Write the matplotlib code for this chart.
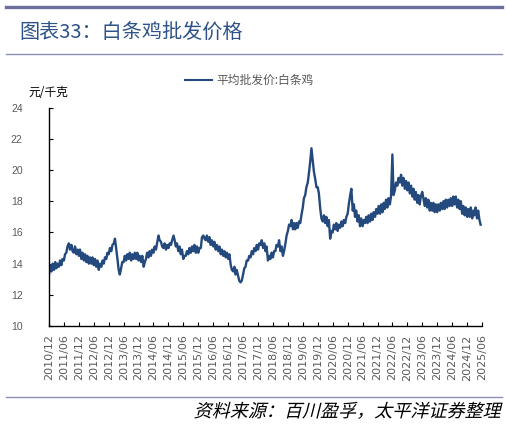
import matplotlib
matplotlib.use("Agg")
import matplotlib.pyplot as plt
import matplotlib.dates as mdates
from matplotlib.lines import Line2D
from matplotlib.textpath import TextPath
from matplotlib.patches import PathPatch
from matplotlib.font_manager import FontProperties
from matplotlib.transforms import Affine2D
import pandas as pd

plt.rcParams['font.family'] = ['Noto Sans CJK SC', 'DejaVu Sans']

# semi-monthly readings (1st / 15th) of 白条鸡 average wholesale price, yuan/kg
start = '2010-12-01'
prices = [
    13.3, 13.9,
    # 2011
    13.5, 14.0, 13.6, 14.1, 13.7, 14.0, 13.8, 14.2, 13.9, 14.3, 14.2, 14.6,
    14.7, 15.1, 15.3, 14.9, 15.2, 14.8, 14.7, 15.1, 14.6, 14.9, 14.5, 14.9,
    # 2012
    14.3, 14.7, 14.2, 14.6, 14.1, 14.5, 14.0, 14.4, 14.0, 14.4, 13.9, 14.3,
    13.8, 14.2, 13.6, 14.0, 13.8, 14.2, 14.0, 14.4, 14.3, 14.7, 14.6, 15.0,
    # 2013
    14.8, 15.2, 15.3, 15.6, 15.0, 14.4, 13.6, 13.3, 13.7, 14.1, 14.1, 14.5,
    14.2, 14.6, 14.3, 14.7, 14.2, 14.6, 14.3, 14.7, 14.3, 14.7, 14.2, 14.5,
    # 2014
    14.1, 14.5, 13.8, 14.1, 14.3, 14.7, 14.4, 14.8, 14.5, 14.9, 14.7, 15.1,
    14.9, 15.3, 15.8, 15.5, 15.4, 15.1, 15.0, 15.3, 14.9, 15.2, 15.0, 15.3,
    # 2015
    15.2, 15.5, 15.8, 15.5, 15.1, 15.3, 14.8, 15.1, 14.6, 14.9, 14.3, 14.5,
    14.5, 14.8, 14.6, 15.0, 14.7, 15.1, 14.8, 15.2, 14.7, 15.1, 14.7, 15.0,
    # 2016
    15.0, 15.7, 15.8, 15.6, 15.5, 15.8, 15.4, 15.7, 15.2, 15.5, 15.1, 15.4,
    14.9, 15.2, 14.8, 15.1, 14.6, 14.9, 14.5, 14.8, 14.4, 14.7, 14.3, 14.6,
    # 2017
    13.9, 13.6, 13.5, 13.8, 13.3, 13.6, 13.2, 12.9, 12.8, 12.9, 13.3, 13.7,
    13.8, 14.2, 14.2, 14.5, 14.4, 14.8, 14.6, 15.0, 14.8, 15.2, 14.9, 15.3,
    # 2018
    15.2, 15.5, 15.0, 15.3, 14.8, 15.1, 14.2, 14.5, 14.3, 14.7, 14.4, 14.8,
    14.8, 15.2, 15.1, 15.5, 14.8, 15.1, 14.5, 14.8, 15.3, 15.8, 16.1, 16.5,
    # 2019
    16.4, 16.8, 16.2, 16.6, 16.2, 16.6, 16.3, 16.7, 16.6, 17.1, 17.6, 18.2,
    18.4, 18.9, 19.2, 19.8, 20.6, 21.4, 20.6, 19.9, 19.4, 18.9, 18.9, 18.5,
    # 2020
    17.5, 16.9, 16.7, 17.1, 16.6, 17.0, 16.4, 16.8, 15.6, 16.1, 16.0, 16.5,
    16.2, 16.6, 16.1, 16.5, 16.3, 16.7, 16.4, 16.8, 16.6, 17.0, 17.2, 17.8,
    # 2021
    18.4, 18.8, 17.4, 17.8, 17.0, 17.4, 16.7, 17.1, 16.4, 16.9, 16.4, 16.8,
    16.6, 17.0, 16.6, 17.1, 16.7, 17.2, 16.8, 17.3, 17.0, 17.5, 17.2, 17.7,
    # 2022
    17.2, 17.8, 17.3, 17.9, 17.5, 18.1, 17.6, 18.2, 17.8, 18.3, 21.0, 18.4,
    18.7, 19.2, 19.0, 19.5, 19.2, 19.7, 19.0, 19.5, 18.8, 19.3, 18.7, 19.2,
    # 2023
    18.5, 19.0, 18.3, 18.8, 18.1, 18.6, 17.9, 18.4, 17.8, 18.3, 18.6, 18.2,
    17.7, 18.2, 17.6, 18.1, 17.4, 17.9, 17.4, 17.9, 17.3, 17.8, 17.3, 17.8,
    # 2024
    17.4, 17.9, 17.5, 18.0, 17.5, 18.1, 17.6, 18.1, 17.7, 18.2, 17.7, 18.3,
    17.8, 18.3, 17.6, 18.1, 17.5, 18.0, 17.2, 17.7, 17.1, 17.6, 17.0, 17.5,
    # 2025
    17.0, 17.6, 16.9, 17.4, 17.1, 17.6, 16.9, 17.4, 16.8, 16.5,
]
dates = pd.date_range(start, periods=len(prices), freq='SMS')

tick_dates = pd.date_range('2010-12-01', '2025-06-01', freq='6MS')
y_ticks = [10, 12, 14, 16, 18, 20, 22, 24]

W, H = 507, 424
fig = plt.figure(figsize=(W / 100, H / 100), dpi=100)
ax = fig.add_axes([49 / W, 1 - 326 / H, (482 - 49) / W, (326 - 107.7) / H])

ax.plot(dates, prices, color='#24497d', lw=1.7)

ax.set_xlim(tick_dates[0], tick_dates[-1])
ax.set_ylim(10, 24)
ax.set_yticks(y_ticks)
ax.set_xticks(tick_dates)
ax.xaxis.set_major_formatter(mdates.DateFormatter('%Y/%m'))

for s in ['top', 'right']:
    ax.spines[s].set_visible(False)
for s in ['left', 'bottom']:
    ax.spines[s].set_linewidth(1.0)
    ax.spines[s].set_color('black')

ax.tick_params(axis='y', direction='in', length=3, pad=19, labelsize=7.5,
               labelcolor='#595959')
ax.tick_params(axis='x', direction='in', length=3, pad=6, labelsize=8,
               labelcolor='#595959', rotation=90)
for lab in ax.get_yticklabels():
    lab.set_family(['Liberation Sans', 'DejaVu Sans'])
for lab in ax.get_xticklabels():
    lab.set_family(['DejaVu Sans'])

# header / footer decoration
fig.add_artist(Line2D([6 / W, 502 / W], [1 - 6.5 / H] * 2, color='#6c6f9e', lw=2.4))
fig.add_artist(Line2D([6 / W, 502 / W], [1 - 54 / H] * 2, color='#8a8fb8', lw=1.0))
fig.add_artist(Line2D([6 / W, 502 / W], [1 - 397 / H] * 2, color='#8a8fb8', lw=1.0))

fig.text(19 / W, 1 - 32 / H, '图表33：白条鸡批发价格', fontsize=14.5, color='#2f5388',
         va='center', ha='left')
fig.text(28 / W, 1 - 93 / H, '元/千克', fontsize=8.5, color='black', va='center')

# legend
fig.add_artist(Line2D([185 / W, 212 / W], [1 - 80 / H] * 2, color='#24497d', lw=1.5))
fig.text(216 / W, 1 - 80 / H, '平均批发价:白条鸡', fontsize=8.5, color='#595959',
         va='center', ha='left')

# source note, slanted like the original italic
src = '资料来源：百川盈孚，太平洋证券整理'
tp = TextPath((0, 0), src, prop=FontProperties(family='Noto Sans CJK SC', size=13,
                                                weight='light'))
ext = tp.get_extents()
sc = 100 / 72
tr = (Affine2D().skew_deg(14, 0).scale(sc)
      .translate(500 - ext.x1 * sc, H - 417))
fig.add_artist(PathPatch(tp, transform=tr, facecolor='black', edgecolor='none'))

fig.savefig('out.png', dpi=100)
